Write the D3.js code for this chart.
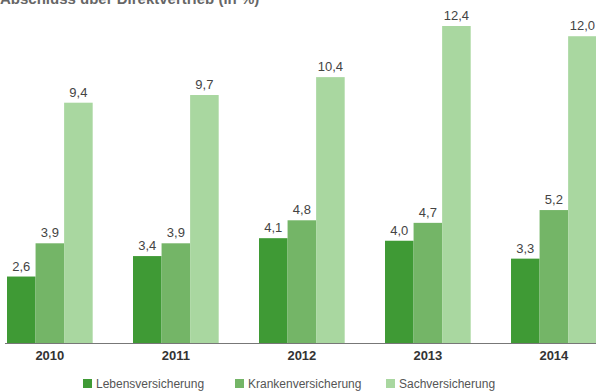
<!DOCTYPE html>
<html><head><meta charset="utf-8">
<script src="https://cdn.jsdelivr.net/npm/d3@7"></script>
<style>body{margin:0;background:#fff}svg{display:block}</style>
</head><body>
<svg id="c" width="596" height="391"></svg>
<script>
const title = "Abschluss über Direktvertrieb (in %)";
const years = ["2010","2011","2012","2013","2014"];
const seriesNames = ["Lebensversicherung","Krankenversicherung","Sachversicherung"];
const leben = [2.6, 3.4, 4.1, 4.0, 3.3];
const kranken = [3.9, 3.9, 4.8, 4.7, 5.2];
const sach = [9.4, 9.7, 10.4, 12.4, 12.0];
const colors = ["#3f9a35", "#74b567", "#a9d7a0"];

const series = [leben, kranken, sach];
const svg = d3.select("#c");
const baseY = 343;
const x0 = d3.scaleBand().domain(years).range([7, 596.7]).paddingInner(0.32).paddingOuter(0);
const x1 = d3.scaleBand().domain(d3.range(3)).range([0, x0.bandwidth()]).padding(0);
const y = d3.scaleLinear().domain([0, 12.4]).range([baseY, 26]);
const fmt = v => d3.format(".1f")(v).replace(".", ",");

svg.append("text").attr("x", 0).attr("y", 4).attr("font-family", "Liberation Sans, Arial, sans-serif")
  .attr("font-size", 15).attr("font-weight", "bold").attr("fill", "#666").text(title);

const g = svg.selectAll("g.grp").data(years).join("g").attr("class","grp")
  .attr("transform", d => `translate(${x0(d)},0)`);
g.each(function(yr, i) {
  const sel = d3.select(this);
  series.forEach((s, k) => {
    sel.append("rect").attr("x", x1(k)).attr("width", x1.bandwidth())
      .attr("y", y(s[i])).attr("height", baseY - y(s[i])).attr("fill", colors[k]);
    sel.append("text").attr("x", x1(k) + x1.bandwidth()/2).attr("y", y(s[i]) - 6)
      .attr("text-anchor", "middle").attr("font-family", "Liberation Sans, Arial, sans-serif")
      .attr("font-size", 13).attr("fill", "#444").text(fmt(s[i]));
  });
});

const axis = svg.append("g").attr("transform", `translate(0,${baseY})`)
  .call(d3.axisBottom(x0).tickSize(0).tickPadding(8));
axis.select(".domain").attr("stroke", "#777").attr("stroke-width", 1.2).attr("d", "M5,0.5H596");
axis.selectAll("text").attr("font-family", "Liberation Sans, Arial, sans-serif")
  .attr("font-size", 13).attr("font-weight", "bold").attr("fill", "#333");

const legX = [83, 235, 386];
const leg = svg.selectAll("g.leg").data(seriesNames).join("g").attr("class","leg")
  .attr("transform", (d,i) => `translate(${legX[i]},379)`);
leg.append("rect").attr("width", 9).attr("height", 9).attr("fill", (d,i) => colors[i]);
leg.append("text").attr("x", 13).attr("y", 8.5).attr("font-family", "Liberation Sans, Arial, sans-serif")
  .attr("font-size", 12).attr("fill", "#555").text(d => d);
</script>
</body></html>
